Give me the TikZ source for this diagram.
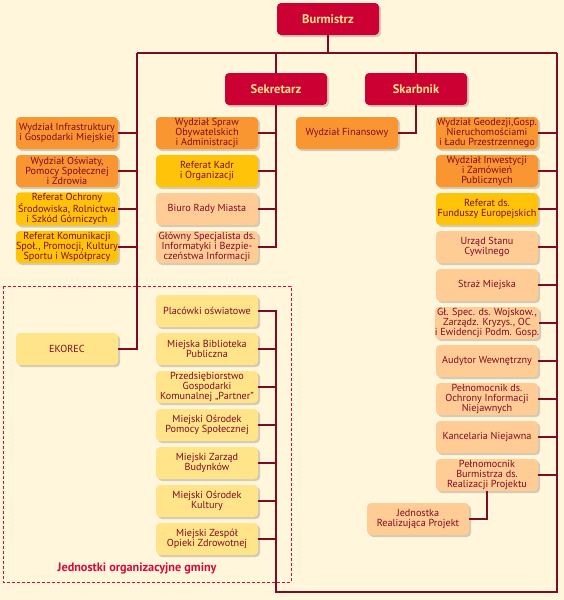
\documentclass[tikz,border=0pt]{standalone}
\usepackage{fontspec}
\setmainfont{PT Sans}
\usetikzlibrary{shadows}
\definecolor{bg}{HTML}{FFF6DC}
\definecolor{cOr}{HTML}{FA9632}
\definecolor{cYe}{HTML}{FFC40A}
\definecolor{cPe}{HTML}{FFCC96}
\definecolor{cLy}{HTML}{FFE48A}
\definecolor{cRed}{HTML}{CC0033}
\definecolor{cTx}{HTML}{800A23}
\definecolor{cLbl}{HTML}{D40A3A}
\begin{document}
\begin{tikzpicture}[x=1pt,y=-1pt,
  boxbase/.style={rounded corners=4pt, minimum width=102pt, minimum height=32pt,
    inner xsep=0pt, inner ysep=1pt, align=center, text=cTx,
    font=\fontsize{10.2}{10}\selectfont,
    drop shadow={shadow xshift=2pt, shadow yshift=-2pt, opacity=0.25, fill=black!70}},
  orbox/.style={boxbase, fill=cOr},
  yebox/.style={boxbase, fill=cYe},
  pebox/.style={boxbase, fill=cPe},
  lybox/.style={boxbase, fill=cLy},
  headbox/.style={boxbase, fill=cRed, text=cLy, font=\fontsize{12.5}{13}\selectfont\bfseries},
  conn/.style={draw=cTx, line width=1.2pt}
]
\fill[bg] (0,0) rectangle (564,600);
\useasboundingbox (0,0) rectangle (564,600);

% dashed region
\draw[cLbl, line width=0.9pt, dash pattern=on 3pt off 2pt] (3,286) rectangle (291,582);

% coordinates for connector lines
\coordinate (tl) at (137,53);
\coordinate (tr) at (557,53);
\coordinate (br) at (557,592);
\coordinate (bm) at (276,592);

% head boxes
\node[headbox] (bur) at (328,19) {Burmistrz};
\node[headbox] (sek) at (276,89) {Sekretarz};
\node[headbox] (ska) at (416,89) {Skarbnik};

% left column
\node[orbox] (l1) at (67,133) {Wydział Infrastruktury\\i Gospodarki Miejskiej};
\node[orbox] (l2) at (67,171) {Wydział Oświaty,\\Pomocy Społecznej\\i Zdrowia};
\node[yebox] (l3) at (67,209) {Referat Ochrony\\Środowiska, Rolnictwa\\i Szkód Górniczych};
\node[yebox] (l4) at (67,247) {Referat Komunikacji\\Społ., Promocji, Kultury\\Sportu i Współpracy};
\node[lybox] (eko) at (67,349) {EKOREC};

% middle column
\node[orbox] (m1) at (207,133) {Wydział Spraw\\Obywatelskich\\i Administracji};
\node[yebox] (m2) at (207,171) {Referat Kadr\\i Organizacji};
\node[pebox] (m3) at (207,209) {Biuro Rady Miasta};
\node[pebox] (m4) at (207,247) {Główny Specjalista ds.\\Informatyki i Bezpie-\\czeństwa Informacji};

% finance
\node[orbox] (fin) at (347,133) {Wydział Finansowy};

% right column
\node[orbox] (r1) at (487,133) {Wydział Geodezji,Gosp.\\Nieruchomościami\\i Ładu Przestrzennego};
\node[orbox] (r2) at (487,171) {Wydział Inwestycji\\i Zamówień\\Publicznych};
\node[yebox] (r3) at (487,209) {Referat ds.\\Funduszy Europejskich};
\node[pebox] (r4) at (487,247) {Urząd Stanu\\Cywilnego};
\node[pebox] (r5) at (487,285) {Straż Miejska};
\node[pebox] (r6) at (487,323) {Gł. Spec. ds. Wojskow.,\\Zarządz. Kryzys., OC\\i Ewidencji Podm. Gosp.};
\node[pebox] (r7) at (487,361) {Audytor Wewnętrzny};
\node[pebox] (r8) at (487,399) {Pełnomocnik ds.\\Ochrony Informacji\\Niejawnych};
\node[pebox] (r9) at (487,437) {Kancelaria Niejawna};
\node[pebox] (r10) at (487,475) {Pełnomocnik\\Burmistrza ds.\\Realizacji Projektu};
\node[pebox] (jed) at (418,519) {Jednostka\\Realizująca Projekt};

% units
\node[lybox] (u1) at (207,311) {Placówki oświatowe};
\node[lybox] (u2) at (207,349) {Miejska Biblioteka\\Publiczna};
\node[lybox] (u3) at (207,387) {Przedsiębiorstwo\\Gospodarki\\Komunalnej „Partner”};
\node[lybox] (u4) at (207,425) {Miejski Ośrodek\\Pomocy Społecznej};
\node[lybox] (u5) at (207,463) {Miejski Zarząd\\Budynków};
\node[lybox] (u6) at (207,501) {Miejski Ośrodek\\Kultury};
\node[lybox] (u7) at (207,539) {Miejski Zespół\\Opieki Zdrowotnej};

\node[text=cLbl, font=\fontsize{12.2}{13}\selectfont\bfseries] (lbl) at (137,568) {Jednostki organizacyjne gminy};

% connectors
\draw[conn] (bur.south) -- (bur.south |- tl);
\draw[conn] (tl) -- (tr);
\draw[conn] (sek.north) -- (sek.north |- tl);
\draw[conn] (ska.north) -- (ska.north |- tl);
\draw[conn] (tl) |- (eko.east);
\foreach \n in {l1,l2,l3,l4} {\draw[conn] (\n.east) -- (\n.east -| tl);}
\draw[conn] (sek.south) |- (m4.east);
\foreach \n in {m1,m2,m3} {\draw[conn] (\n.east) -- (\n.east -| sek.south);}
\draw[conn] (ska.south) |- (fin.east);
\draw[conn] (u1.east) -| (bm) -- (br) -- (tr);
\foreach \n in {u2,u3,u4,u5,u6,u7} {\draw[conn] (\n.east) -- (\n.east -| bm);}
\foreach \n in {r1,r2,r3,r4,r5,r6,r7,r8,r9,r10} {\draw[conn] (\n.east) -- (\n.east -| tr);}
\draw[conn] (r10.south) |- (jed.east);
\end{tikzpicture}
\end{document}
